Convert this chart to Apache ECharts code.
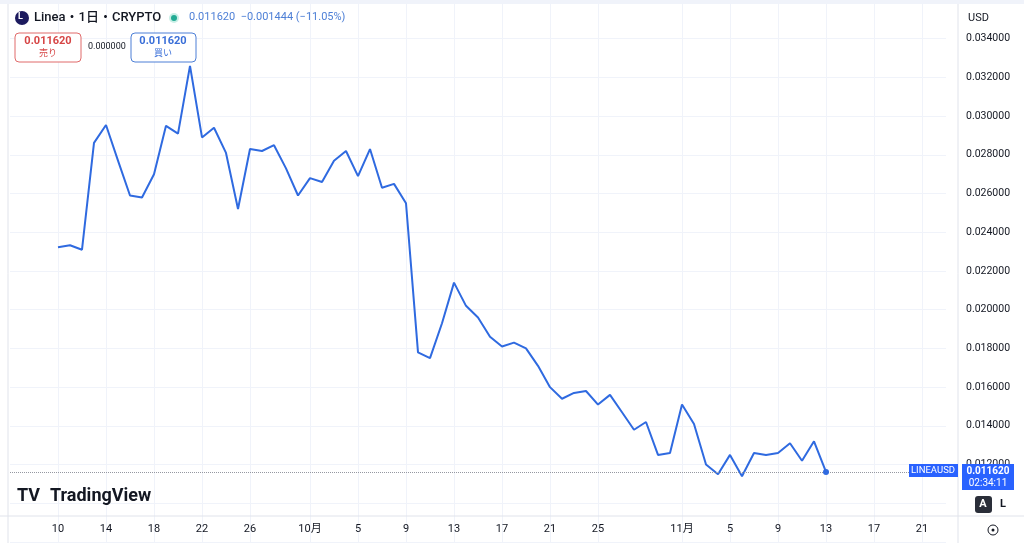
<!DOCTYPE html>
<html><head><meta charset="utf-8">
<script src="https://cdn.jsdelivr.net/npm/echarts@6/dist/echarts.min.js"></script>
<style>html,body{margin:0;padding:0;background:#fff}#c{width:1024px;height:543px}</style>
</head><body><div id="c"></div>
<script>
// daily closes, 2025-09-10 .. 2025-11-13
const startDay = ['2025-09-10']
const closes = [
  0.02323, 0.02333, 0.0231, 0.02862, 0.02954, 0.0277, 0.0259, 0.0258, 0.0270, 0.0295,
  0.0291, 0.0326, 0.0289, 0.0294, 0.0281, 0.0252, 0.0283, 0.0282, 0.0285, 0.0273,
  0.0259, 0.0268, 0.0266, 0.0277, 0.0282, 0.0269, 0.0283, 0.0263, 0.0265, 0.0255,
  0.0178, 0.0175, 0.0193, 0.0214, 0.0202, 0.0196, 0.0186, 0.0181, 0.0183, 0.0180,
  0.0171, 0.0160, 0.0154, 0.0157, 0.0158, 0.0151, 0.0156, 0.0147, 0.0138, 0.0142,
  0.0125, 0.0126, 0.0151, 0.0141, 0.0120, 0.0115, 0.0125, 0.0114, 0.0126, 0.0125,
  0.0126, 0.0131, 0.0122, 0.0132, 0.01162
]
const tickLabels = {
  '09-10': '10', '09-14': '14', '09-18': '18', '09-22': '22', '09-26': '26',
  '10-01': '10月', '10-05': '5', '10-09': '9', '10-13': '13', '10-17': '17', '10-21': '21', '10-25': '25',
  '11-01': '11月', '11-05': '5', '11-09': '9', '11-13': '13', '11-17': '17', '11-21': '21'
}
const lastPrice = 0.01162

// category days Sep 6 .. Nov 23
const days = [], values = []
const d0 = new Date('2025-09-06T00:00:00Z'), s = new Date(startDay[0] + 'T00:00:00Z')
for (let i = 0; i < 79; i++) {
  const d = new Date(d0.getTime() + i * 86400000)
  const key = String(d.getUTCMonth() + 1).padStart(2, '0') + '-' + String(d.getUTCDate()).padStart(2, '0')
  days.push(key)
  const k = Math.round((d - s) / 86400000)
  values.push(k >= 0 && k < closes.length ? closes[k] : null)
}

const chart = echarts.init(document.getElementById('c'), null, { renderer: 'canvas' })
const blue = '#2f6ae0'
const font = 'Roboto, "Noto Sans CJK JP", sans-serif'

const overlay = [
  { type: 'rect', shape: { x: 0, y: 0, width: 1024, height: 4 }, style: { fill: '#f0f3fa' } },
  { type: 'line', shape: { x1: 958, y1: 4, x2: 958, y2: 543 }, style: { stroke: '#e0e3eb' } },
  { type: 'line', shape: { x1: 0, y1: 516, x2: 1024, y2: 516 }, style: { stroke: '#e0e3eb' } },
  { type: 'line', shape: { x1: 8, y1: 4, x2: 8, y2: 543 }, style: { stroke: '#e0e3eb' } },
  { type: 'rect', shape: { x: 959, y: 5, width: 65, height: 28 }, style: { fill: '#fff' } },
  { type: 'text', x: 968, y: 13, style: { text: 'USD', font: '11px ' + font, fill: '#131722' } },
  // header
  { type: 'circle', shape: { cx: 22, cy: 18, r: 7 }, style: { fill: '#1c1a5e' } },
  { type: 'text', x: 18, y: 12, style: { text: 'L', font: 'bold 9px ' + font, fill: '#fff' } },
  { type: 'text', x: 34, y: 11, style: { text: 'Linea・1日・CRYPTO', font: '500 13px ' + font, fill: '#131722' } },
  { type: 'circle', shape: { cx: 174, cy: 18, r: 5 }, style: { fill: '#c8efe6' } },
  { type: 'circle', shape: { cx: 174, cy: 18, r: 3 }, style: { fill: '#22ab94' } },
  { type: 'text', x: 189, y: 12, style: { text: '0.011620  −0.001444 (−11.05%)', font: '11px ' + font, fill: '#4d7fd6' } },
  { type: 'rect', shape: { x: 15, y: 33, width: 66, height: 29, r: 4 }, style: { fill: '#fff', stroke: '#e06b6b' } },
  { type: 'text', x: 48, y: 36, style: { text: '0.011620', font: 'bold 11px ' + font, fill: '#d64545', align: 'center' } },
  { type: 'text', x: 48, y: 49, style: { text: '売り', font: '9px ' + font, fill: '#d64545', align: 'center' } },
  { type: 'text', x: 88, y: 42, style: { text: '0.000000', font: '9px ' + font, fill: '#131722' } },
  { type: 'rect', shape: { x: 131, y: 33, width: 65, height: 29, r: 4 }, style: { fill: '#fff', stroke: '#4d7fd6' } },
  { type: 'text', x: 163, y: 36, style: { text: '0.011620', font: 'bold 11px ' + font, fill: '#3a6fd8', align: 'center' } },
  { type: 'text', x: 163, y: 49, style: { text: '買い', font: '9px ' + font, fill: '#3a6fd8', align: 'center' } },
  // last price tags
  { type: 'rect', shape: { x: 909, y: 464, width: 49, height: 13 }, style: { fill: '#2962ff' } },
  { type: 'text', x: 933, y: 466, style: { text: 'LINEAUSD', font: '9.5px ' + font, fill: '#fff', align: 'center' } },
  { type: 'rect', shape: { x: 962, y: 464, width: 52, height: 26 }, style: { fill: '#2962ff' } },
  { type: 'text', x: 988, y: 466, style: { text: '0.011620', font: 'bold 10px ' + font, fill: '#fff', align: 'center' } },
  { type: 'text', x: 988, y: 478, style: { text: '02:34:11', font: '10px ' + font, fill: '#fff', align: 'center' } },
  // A / L
  { type: 'rect', shape: { x: 975, y: 496, width: 17, height: 17, r: 3 }, style: { fill: '#2a2e39' } },
  { type: 'text', x: 983, y: 499, style: { text: 'A', font: 'bold 11px ' + font, fill: '#fff', align: 'center' } },
  { type: 'text', x: 1003, y: 499, style: { text: 'L', font: 'bold 11px ' + font, fill: '#131722', align: 'center' } },
  { type: 'circle', shape: { cx: 993, cy: 530, r: 5 }, style: { fill: 'none', stroke: '#131722', lineWidth: 1 } },
  { type: 'circle', shape: { cx: 993, cy: 530, r: 1.5 }, style: { fill: '#131722' } },
  // logo
  { type: 'text', x: 17, y: 488, style: { text: 'TV', font: 'bold 18px ' + font, fill: '#131722' } },
  { type: 'text', x: 50, y: 488, style: { text: 'TradingView', font: 'bold 18px ' + font, fill: '#131722' } }
].map(g => Object.assign({ z: 100 }, g))

chart.setOption({
  animation: false,
  textStyle: { fontFamily: font },
  grid: { left: 10, right: 78, top: -4, height: 546 },
  xAxis: {
    type: 'category', data: days, boundaryGap: false, offset: -26,
    axisLine: { show: false }, axisTick: { show: false },
    axisLabel: {
      interval: (i, v) => v in tickLabels, formatter: v => tickLabels[v] || '',
      color: '#131722', fontSize: 11, margin: 8
    },
    splitLine: { show: true, interval: (i, v) => v in tickLabels, lineStyle: { color: '#f0f3fa' } }
  },
  yAxis: {
    type: 'value', position: 'right', min: 0.008, max: 0.036, interval: 0.002, offset: 12,
    axisLine: { show: false }, axisTick: { show: false },
    axisLabel: { formatter: v => (v < 0.0115 || v > 0.0345) ? '' : v.toFixed(6), color: '#131722', fontSize: 10.5, margin: 8 },
    splitLine: { lineStyle: { color: '#f0f3fa' } }
  },
  series: [{
    type: 'line', data: values, showSymbol: false, connectNulls: false,
    lineStyle: { color: blue, width: 2 },
    markLine: {
      silent: true, symbol: 'none', label: { show: false },
      lineStyle: { color: '#9598a1', type: 'dotted', width: 1 },
      data: [[{ coord: ['09-06', lastPrice] }, { coord: ['11-23', lastPrice] }]]
    },
    markPoint: {
      symbol: 'circle', symbolSize: 6, itemStyle: { color: blue }, label: { show: false },
      data: [{ coord: ['11-13', lastPrice] }]
    }
  }],
  graphic: overlay
})
</script></body></html>
